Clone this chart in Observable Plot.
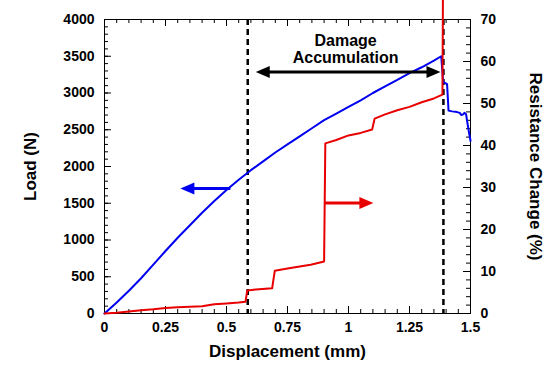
<!DOCTYPE html>
<html><head><meta charset="utf-8">
<script src="https://cdn.jsdelivr.net/npm/d3@7"></script>
<script src="https://cdn.jsdelivr.net/npm/@observablehq/plot@0.6"></script>
<style>body{margin:0;background:#fff;}</style>
</head><body><div id="chart"></div>
<script>
// Load (N) vs displacement (mm)
const loadDisp = [0,0.05,0.1,0.15,0.2,0.25,0.3,0.35,0.4,0.45,0.5,0.55,0.6,0.65,0.7,0.75,0.8,0.85,0.9,0.95,1.0,1.05,1.1,1.15,1.2,1.25,1.3,1.35,1.38,1.388,1.404,1.41,1.425,1.445,1.456,1.462,1.47,1.475,1.482,1.486,1.493,1.5];
const loadN    = [0,150,310,480,665,850,1030,1200,1370,1530,1680,1820,1950,2070,2190,2300,2410,2520,2630,2720,2810,2900,3000,3090,3180,3270,3350,3440,3500,3150,3120,2760,2750,2740,2730,2700,2710,2730,2710,2620,2480,2350];
// Resistance change (%) vs displacement (mm)
const resDisp = [0,0.05,0.1,0.15,0.2,0.25,0.3,0.35,0.4,0.45,0.5,0.55,0.578,0.585,0.62,0.66,0.687,0.698,0.75,0.8,0.845,0.9,0.905,0.95,1.0,1.05,1.097,1.107,1.15,1.2,1.25,1.3,1.35,1.385,1.387];
const resPct  = [0,0.2,0.5,0.8,1.0,1.3,1.5,1.6,1.7,2.2,2.4,2.6,2.8,5.5,5.7,5.9,6.0,10.2,10.7,11.2,11.6,12.4,40.5,41.3,42.4,43.0,43.8,46.4,47.4,48.4,49.2,50.3,51.2,52.1,75];
// ticks
const xTicks = [0,0.25,0.5,0.75,1,1.25,1.5];
const xTickLabels = ["0","0.25","0.5","0.75","1","1.25","1.5"];
const loadTicks = [0,500,1000,1500,2000,2500,3000,3500,4000];
const resTicks = [0,10,20,30,40,50,60,70];
// annotations
const markerX = [0.587, 1.389];
const noteText = ["Damage\nAccumulation"];
const noteX = [0.988];
const noteY = [3600];
const arrowFrom = [0.516, 0.902, 0.62];
const arrowTo   = [0.311, 1.102, 1.377];
const arrowY    = [1700, 1505, 3286];
const arrowBoth = [false, false, true];
const arrowColor = ["#0000f0", "#e80000", "#000000"];

const W = 548, H = 366;
const mL = 104, mR = 78, mT = 19, mB = 53;
const pw = W - mL - mR, ph = H - mT - mB;
const k = 4000 / 70;
const pxPerX = pw / 1.5;
const headLen = 14, headHalf = 6;

const blue = loadDisp.map((d, i) => ({x: d, y: loadN[i]}));
const red = resDisp.map((d, i) => ({x: d, y: resPct[i] * k}));

const headRight = {draw(c) { c.moveTo(0, 0); c.lineTo(-headLen, -headHalf); c.lineTo(-headLen, headHalf); c.closePath(); }};
const headLeft  = {draw(c) { c.moveTo(0, 0); c.lineTo(headLen, -headHalf); c.lineTo(headLen, headHalf); c.closePath(); }};

const arrowMarks = [];
arrowFrom.forEach((x1, i) => {
  const x2 = arrowTo[i], y = arrowY[i], col = arrowColor[i];
  const dir = Math.sign(x2 - x1);
  const inset = (headLen - 2) / pxPerX;
  const s1 = arrowBoth[i] ? x1 + dir * inset : x1;
  const s2 = x2 - dir * inset;
  arrowMarks.push(Plot.link([0], {x1: () => s1, x2: () => s2, y1: () => y, y2: () => y, stroke: col, strokeWidth: 3}));
  arrowMarks.push(Plot.dot([0], {x: () => x2, y: () => y, symbol: dir > 0 ? headRight : headLeft, fill: col, stroke: "none"}));
  if (arrowBoth[i]) arrowMarks.push(Plot.dot([0], {x: () => x1, y: () => y, symbol: dir > 0 ? headLeft : headRight, fill: col, stroke: "none"}));
});

const xMinor = d3.range(0, 1.5001, 0.05);
const yMinor = d3.range(0, 4001, 100);
const rMinor = d3.range(0, 70.001, 2).map(v => v * k);

const chart = Plot.plot({
  width: W, height: H,
  marginLeft: mL, marginRight: mR, marginTop: mT, marginBottom: mB,
  style: {fontFamily: "'Liberation Sans', Arial, sans-serif", fontWeight: "bold", fontSize: "14px", color: "black", background: "white"},
  x: {domain: [0, 1.5], label: null},
  y: {domain: [0, 4000], label: null},
  marks: [
    // ticks (inward)
    Plot.tickX(xMinor, {x: d => d, insetTop: ph - 4, stroke: "black"}),
    Plot.tickX(xTicks, {x: d => d, insetTop: ph - 7, stroke: "black"}),
    Plot.tickX(xMinor, {x: d => d, insetBottom: ph - 4, stroke: "black"}),
    Plot.tickX(xTicks, {x: d => d, insetBottom: ph - 7, stroke: "black"}),
    Plot.tickY(yMinor, {y: d => d, insetRight: pw - 4, stroke: "black"}),
    Plot.tickY(loadTicks, {y: d => d, insetRight: pw - 7, stroke: "black"}),
    Plot.tickY(rMinor, {y: d => d, insetLeft: pw - 4, stroke: "black"}),
    Plot.tickY(resTicks.map(v => v * k), {y: d => d, insetLeft: pw - 7, stroke: "black"}),
    Plot.axisX({ticks: xTicks, tickFormat: d => xTickLabels[xTicks.indexOf(d)], tickSize: 0, tickPadding: 9, label: null}),
    Plot.axisY({ticks: loadTicks, tickSize: 0, tickPadding: 10, label: null, tickFormat: d => String(d)}),
    Plot.axisY({anchor: "right", ticks: resTicks.map(v => v * k), tickSize: 0, tickPadding: 10, label: null, tickFormat: d => String(Math.round(d / k))}),
    Plot.frame({stroke: "black"}),
    // axis titles
    Plot.text(["Load (N)"], {frameAnchor: "left", textAnchor: "middle", dx: -74, rotate: -90, fontSize: 17, fontWeight: "bold", fill: "black"}),
    Plot.text(["Resistance Change (%)"], {frameAnchor: "right", textAnchor: "middle", dx: 65, rotate: 90, fontSize: 17, fontWeight: "bold", fill: "black"}),
    Plot.text(["Displacement (mm)"], {frameAnchor: "bottom", textAnchor: "middle", dy: 43, fontSize: 17, fontWeight: "bold", fill: "black"}),
    // dashed markers
    Plot.ruleX(markerX, {stroke: "black", strokeWidth: 2.5, strokeDasharray: "6,4"}),
    // series
    Plot.line(blue, {x: "x", y: "y", stroke: "#0000f0", strokeWidth: 2}),
    Plot.line(red, {x: "x", y: "y", stroke: "#e80000", strokeWidth: 2}),
    // annotations
    Plot.text(noteText, {x: (d, i) => noteX[i], y: (d, i) => noteY[i], fontSize: 16, fontWeight: "bold", lineHeight: 1.1, fill: "black"}),
    ...arrowMarks
  ]
});
document.getElementById("chart").appendChild(chart);
</script>
</body></html>
